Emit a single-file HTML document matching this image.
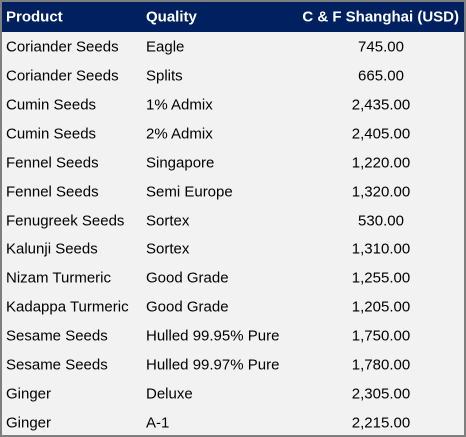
<!DOCTYPE html>
<html><head><meta charset="utf-8"><style>
body{margin:0;width:466px;height:437px;overflow:hidden;background:#fff}
.t{position:absolute;left:0;top:0;width:462px;height:433px;border:2px solid #7f7f7f;background:#f2f2f2;font-family:"Liberation Sans",sans-serif;font-size:15px;color:#000}
.h{position:absolute;left:0;top:0;width:462px;height:30px;background:#002060;color:#fff;font-weight:bold}
.r{position:absolute;left:0;width:462px;height:28.86px}
.c{position:absolute;top:50%;transform:translateY(-50%);white-space:nowrap}
.c1{left:4px}.c2{left:144px}.c3{left:300px;width:158px;text-align:center}
.h .c3{text-align:right;width:157px}
</style></head><body>
<div class="t">
<div class="h">
<span class="c c1">Product</span>
<span class="c c2">Quality</span>
<span class="c c3">C &amp; F Shanghai (USD)</span>
</div>
<div id="body"></div>
</div>
<script>
const products=["Coriander Seeds","Coriander Seeds","Cumin Seeds","Cumin Seeds","Fennel Seeds","Fennel Seeds","Fenugreek Seeds","Kalunji Seeds","Nizam Turmeric","Kadappa Turmeric","Sesame Seeds","Sesame Seeds","Ginger","Ginger"];
const qualities=["Eagle","Splits","1% Admix","2% Admix","Singapore","Semi Europe","Sortex","Sortex","Good Grade","Good Grade","Hulled 99.95% Pure","Hulled 99.97% Pure","Deluxe","A-1"];
const prices=[745,665,2435,2405,1220,1320,530,1310,1255,1205,1750,1780,2305,2215];
const b=document.getElementById('body');
products.forEach((p,i)=>{
const r=document.createElement('div');r.className='r';r.style.top=(31+i*28.86)+'px';


const a=document.createElement('span');a.className='c c1';a.textContent=p;


const q=document.createElement('span');q.className='c c2';q.textContent=qualities[i];


const v=document.createElement('span');v.className='c c3';v.textContent=prices[i].toLocaleString('en-US',{minimumFractionDigits:2,maximumFractionDigits:2});


r.append(a,q,v);b.appendChild(r);});
</script>
</body></html>
